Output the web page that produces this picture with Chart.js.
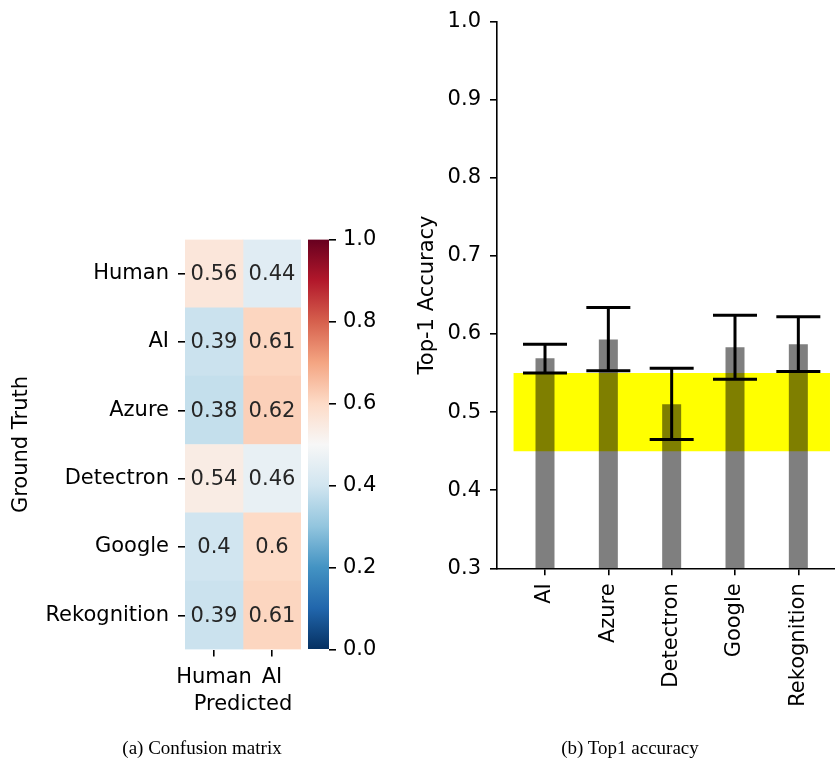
<!DOCTYPE html>
<html><head><meta charset="utf-8">
<script src="https://cdn.jsdelivr.net/npm/chart.js@4/dist/chart.umd.min.js"></script>
<style>
html,body{margin:0;padding:0;background:#fff;width:835px;height:765px;overflow:hidden;}
canvas{position:absolute;top:0;}
.cap{position:absolute;top:738px;line-height:20px;font-family:"Liberation Serif","Times New Roman",serif;font-size:19px;color:#000;white-space:nowrap;transform:translateX(-50%);}
</style></head><body>
<canvas id="hm" width="302" height="765" style="left:0px"></canvas>
<canvas id="cb" width="80" height="765" style="left:300px"></canvas>
<canvas id="acc" width="435" height="765" style="left:400px"></canvas>
<div class="cap" style="left:202px">(a) Confusion matrix</div>
<div class="cap" style="left:630px">(b) Top1 accuracy</div>
<script>
// ---------- data ----------
const truthLabels = ['Human', 'AI', 'Azure', 'Detectron', 'Google', 'Rekognition'];
const predLabels = ['Human', 'AI'];
const predHuman = [0.56, 0.39, 0.38, 0.54, 0.4, 0.39];
const predAI = [0.44, 0.61, 0.62, 0.46, 0.6, 0.61];
const cbarRange = [0, 1];
const cbarTicks = [0.0, 0.2, 0.4, 0.6, 0.8, 1.0];

const accLabels = ['AI', 'Azure', 'Detectron', 'Google', 'Rekognition'];
const accMean = [0.569, 0.593, 0.510, 0.583, 0.587];
const accLow = [0.550, 0.553, 0.465, 0.542, 0.552];
const accHigh = [0.587, 0.634, 0.556, 0.624, 0.622];
const chanceLow = 0.45;
const chanceHigh = 0.55;
const chanceSpan = [-0.5, 4.5];
const accTicks = [0.3, 0.4, 0.5, 0.6, 0.7, 0.8, 0.9, 1.0];

// ---------- helpers ----------
const FONT = "'DejaVu Sans', sans-serif";
Chart.defaults.font.family = FONT;
Chart.defaults.font.size = 21;
Chart.defaults.color = '#000';
Chart.defaults.animation = false;
Chart.defaults.events = [];
Chart.defaults.plugins.legend.display = false;
Chart.defaults.plugins.tooltip.enabled = false;

// RdBu_r colormap (ColorBrewer stops)
const rdbuR = ['#053061','#2166ac','#4393c3','#92c5de','#d1e5f0','#f7f7f7','#fddbc7','#f4a582','#d6604d','#b2182b','#67001f'];
function hex2rgb(h){return [parseInt(h.substr(1,2),16),parseInt(h.substr(3,2),16),parseInt(h.substr(5,2),16)];}
function cmap(v){
  v = Math.max(0, Math.min(1, v));
  const p = v * (rdbuR.length - 1);
  const i = Math.min(Math.floor(p), rdbuR.length - 2);
  const t = p - i;
  const a = hex2rgb(rdbuR[i]), b = hex2rgb(rdbuR[i+1]);
  const c = a.map((x, k) => Math.round(x + (b[k] - x) * t));
  return `rgb(${c[0]},${c[1]},${c[2]})`;
}
const tickGrid = {display:true, drawOnChartArea:false, drawTicks:true, tickLength:7, color:'#000', lineWidth:1.6, offset:false};

// ---------- heatmap ----------
const cellValues = [predHuman, predAI];
const annotPlugin = {
  id: 'annot',
  afterDatasetsDraw(chart){
    const ctx = chart.ctx;
    ctx.save();
    ctx.font = `21px ${FONT}`;
    ctx.fillStyle = '#262626';
    ctx.textAlign = 'center';
    ctx.textBaseline = 'middle';
    chart.data.datasets.forEach((ds, di) => {
      chart.getDatasetMeta(di).data.forEach((el, i) => {
        const c = el.getCenterPoint();
        ctx.fillText(String(cellValues[di][i]), c.x, c.y + 1);
      });
    });
    ctx.restore();
  }
};

new Chart(document.getElementById('hm'), {
  type: 'bar',
  data: {
    labels: truthLabels,
    datasets: cellValues.map((vals, col) => ({
      data: vals.map(() => [col, col + 1]),
      backgroundColor: vals.map(cmap),
      borderWidth: 0,
      barPercentage: 1,
      categoryPercentage: 1
    }))
  },
  options: {
    indexAxis: 'y',
    responsive: false,
    layout: {padding: {top: 239.5, right: 1, left: 0, bottom: 0}},
    scales: {
      y: {
        type: 'category',
        stacked: true,
        offset: true,
        grid: tickGrid,
        border: {display: false},
        ticks: {padding: 9, color: '#000'},
        title: {display: true, text: 'Ground Truth', color: '#000', font: {size: 21}, padding: {top: 9.4, bottom: 0}},
        afterFit(s){ s.width = 185; }
      },
      x: {
        type: 'linear',
        min: 0, max: 2,
        grid: tickGrid,
        border: {display: false},
        afterBuildTicks(s){ s.ticks = predLabels.map((l, i) => ({value: i + 0.5})); },
        ticks: {padding: 8, maxRotation: 0, autoSkip: false, color: '#000', callback: (v, i) => predLabels[i]},
        title: {display: true, text: 'Predicted', color: '#000', font: {size: 21}, padding: {top: 0, bottom: 47.4}},
        afterFit(s){ s.height = 765 - 649.5; }
      }
    }
  },
  plugins: [annotPlugin]
});

// ---------- colorbar ----------
new Chart(document.getElementById('cb'), {
  type: 'bar',
  data: {
    labels: [''],
    datasets: [{
      data: [cbarRange],
      borderWidth: 0,
      barPercentage: 1,
      categoryPercentage: 1,
      backgroundColor(ctx){
        const chart = ctx.chart, y = chart.scales.y;
        if (!y || !chart.chartArea) return '#fff';
        const g = chart.ctx.createLinearGradient(0, y.getPixelForValue(cbarRange[0]), 0, y.getPixelForValue(cbarRange[1]));
        rdbuR.forEach((c, i) => g.addColorStop(i / (rdbuR.length - 1), c));
        return g;
      }
    }]
  },
  options: {
    responsive: false,
    layout: {padding: {top: 239.5, bottom: 115.5, left: 8, right: 0}},
    scales: {
      x: {display: false, offset: true},
      y: {
        position: 'right',
        min: 0, max: 1,
        grid: tickGrid,
        border: {display: false},
        afterBuildTicks(s){ s.ticks = cbarTicks.map(v => ({value: v})); },
        ticks: {padding: 7, color: '#000', callback: v => v.toFixed(1)},
        afterFit(s){ s.width = 51; }
      }
    }
  }
});

// ---------- accuracy bars ----------
const errPlugin = {
  id: 'errbars',
  afterDatasetsDraw(chart){
    const {ctx, scales: {x, y}} = chart;
    ctx.save();
    ctx.strokeStyle = '#000';
    ctx.lineWidth = 3;
    accMean.forEach((m, i) => {
      const px = x.getPixelForValue(i);
      const lo = y.getPixelForValue(accLow[i]);
      const hi = y.getPixelForValue(accHigh[i]);
      ctx.beginPath();
      ctx.moveTo(px, lo); ctx.lineTo(px, hi);
      ctx.moveTo(px - 22, lo); ctx.lineTo(px + 22, lo);
      ctx.moveTo(px - 22, hi); ctx.lineTo(px + 22, hi);
      ctx.stroke();
    });
    ctx.restore();
  }
};

new Chart(document.getElementById('acc'), {
  type: 'bar',
  data: {
    datasets: [
      {
        type: 'bar',
        data: accMean.map((v, i) => ({x: i, y: v})),
        backgroundColor: 'rgba(0,0,0,0.5)',
        borderWidth: 0,
        barPercentage: 0.3,
        categoryPercentage: 1,
        order: 1
      },
      {
        type: 'line',
        data: chanceSpan.map(xv => ({x: xv, y: chanceHigh})),
        fill: {value: chanceLow},
        backgroundColor: '#ffff00',
        borderWidth: 0,
        pointRadius: 0,
        order: 2
      }
    ]
  },
  options: {
    responsive: false,
    layout: {padding: {top: 18.3, right: 0, left: 0, bottom: 0}},
    scales: {
      x: {
        type: 'linear',
        min: -0.758, max: 4.579,
        offset: false,
        grid: tickGrid,
        border: {display: true, color: '#000', width: 1.6},
        afterBuildTicks(s){ s.ticks = accLabels.map((l, i) => ({value: i})); },
        ticks: {padding: 8, minRotation: 90, maxRotation: 90, autoSkip: false, color: '#000', callback: (v, i) => accLabels[i]},
        afterFit(s){ s.height = 765 - 568.3; }
      },
      y: {
        type: 'linear',
        min: 0.3, max: 1.0,
        grid: tickGrid,
        border: {display: true, color: '#000', width: 1.6},
        afterBuildTicks(s){ s.ticks = accTicks.map(v => ({value: v})); },
        ticks: {padding: 9, color: '#000', callback: v => v.toFixed(1)},
        title: {display: true, text: 'Top-1 Accuracy', color: '#000', font: {size: 21}, padding: {top: 15.4, bottom: 0}},
        afterFit(s){ s.width = 97; }
      }
    }
  },
  plugins: [errPlugin]
});
</script>
</body></html>
